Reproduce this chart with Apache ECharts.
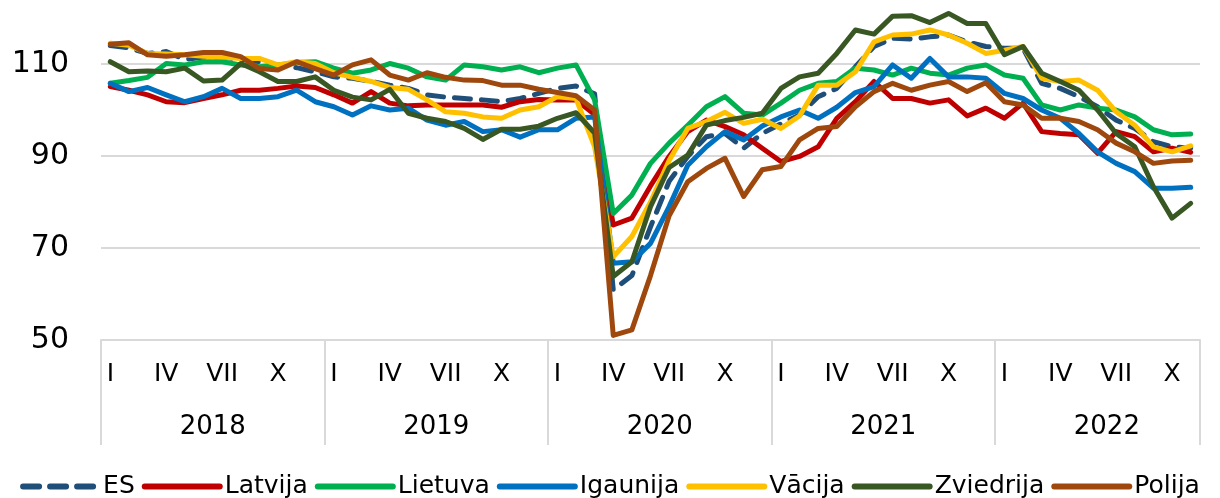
<!DOCTYPE html>
<html>
<head>
<meta charset="utf-8">
<script src="https://cdn.jsdelivr.net/npm/echarts@6/dist/echarts.min.js"></script>
<style>
  html, body { margin: 0; padding: 0; background: #fff; }
  #chart { width: 1220px; height: 498px; }
</style>
</head>
<body>
<div id="chart"></div>
<script>
const monthNames = ["I", "II", "III", "IV", "V", "VI", "VII", "VIII", "IX", "X", "XI", "XII"];
const years = ["2018", "2019", "2020", "2021", "2022"];
const monthsPerYear = [12, 12, 12, 12, 11];

// monthly values, I.2018 - XI.2022
const es = [
   114, 113.5, 112.3, 112.7, 111, 111.5, 111.5, 111, 110.5, 109.8, 109.2, 108.3,
   107.2, 106.9, 106.2, 105.4, 104.7, 103.3, 102.8, 102.5, 102.2, 101.8, 102.5, 103.6,
   104.7, 105.2, 103.5, 60.9, 64, 74.6, 84.5, 89.9, 94.2, 94.9, 91.7, 94.9,
   97, 98.9, 102.9, 104.7, 109.4, 113.8, 115.6, 115.4, 115.9, 116.3, 114.8, 113.8,
   113.4, 113.4, 105.8, 104.7, 102.9, 100.7, 97.8, 96, 93.1, 92, 91.7,
];
const latvija = [
   105.1, 104.3, 103.3, 101.8, 101.6, 102.5, 103.3, 104.3, 104.3, 104.7, 105.2, 104.9,
   103.3, 101.5, 104, 101.5, 100.9, 101.1, 101.1, 101.1, 101.1, 100.6, 101.8, 102.3,
   102.2, 102.2, 99, 75, 76.5, 83.5, 89.9, 95.3, 97.8, 96.4, 94.6, 91.7,
   88.8, 89.9, 92, 98.2, 101.8, 106.2, 102.5, 102.5, 101.5, 102.2, 98.7, 100.4,
   98.2, 101.5, 95.3, 94.9, 94.6, 90.6, 95.3, 94.2, 90.9, 91.7, 90.8,
];
const lietuva = [
   105.8, 106.4, 107.1, 110.1, 109.8, 110.5, 110.5, 109.8, 109.4, 109.8, 110.3, 110.5,
   109.1, 108, 108.7, 110.1, 109.1, 107.2, 106.5, 109.8, 109.4, 108.7, 109.4, 108.1,
   109.1, 109.8, 102.2, 77.5, 81.5, 88.4, 92.8, 96.7, 100.7, 102.9, 99.3, 98.9,
   101.5, 104.3, 105.8, 106.2, 109.1, 108.7, 107.6, 109.1, 108, 107.6, 109.1, 109.8,
   107.6, 106.9, 101.1, 100, 101.1, 100.4, 100, 98.5, 95.7, 94.6, 94.8,
];
const igaunija = [
   105.8, 104, 104.9, 103.3, 101.8, 102.9, 104.7, 102.5, 102.5, 102.9, 104.3, 101.8,
   100.7, 98.9, 100.9, 100, 100.4, 97.8, 96.7, 97.5, 95.3, 95.7, 94.1, 95.7,
   95.7, 98.2, 98.5, 66.7, 67, 71, 79, 88, 92, 95.3, 93.5, 96.5,
   98.5, 100, 98.2, 100.6, 103.8, 105.1, 109.8, 106.9, 111.2, 107.2, 107.2, 106.9,
   103.6, 102.5, 100, 98.2, 94.9, 90.9, 88.4, 86.6, 83, 83, 83.2,
];
const vacija = [
   114.5, 114.1, 112.3, 112.2, 112, 111.7, 111.5, 111.2, 111.2, 109.8, 110.5, 110.1,
   108.1, 107.1, 106.2, 104.9, 104.5, 102.2, 99.6, 99.3, 98.5, 98.2, 100, 100.7,
   102.9, 102.5, 92, 68.1, 72.5, 80, 89, 96, 97.5, 99.5, 97.1, 98,
   96, 98.7, 105.4, 105.4, 108.3, 114.8, 116.3, 116.5, 117.4, 116.3, 114.5, 112.3,
   113, 113.8, 106.9, 106.2, 106.5, 104.3, 99.6, 96.7, 92, 90.9, 92.2,
];
const zviedrija = [
   110.5, 108.3, 108.5, 108.3, 109.1, 106.3, 106.5, 110.1, 108.3, 106.2, 106.2, 107.2,
   104.3, 102.8, 102.2, 104.5, 99.3, 98.2, 97.5, 96, 93.6, 95.8, 95.8, 96.5,
   98.2, 99.4, 95, 63.8, 67, 79, 87.5, 90.2, 96.7, 97.7, 98.4, 99.3,
   104.7, 107.2, 108, 112.3, 117.4, 116.5, 120.4, 120.5, 119, 121, 118.8, 118.8,
   112, 113.8, 108, 106.2, 104.3, 100, 94.9, 92, 83.3, 76.5, 79.7,
];
const polija = [
   114.3, 114.6, 112, 111.7, 112, 112.5, 112.5, 111.6, 109, 108.7, 110.5, 109,
   107.6, 109.8, 110.9, 107.6, 106.5, 108.1, 107.1, 106.5, 106.4, 105.4, 105.4, 104.5,
   103.8, 103.1, 100, 51, 52.2, 64, 77, 84.4, 87.3, 89.5, 81.2, 87,
   87.7, 93.5, 96, 96.4, 100.7, 104, 105.8, 104.3, 105.4, 106.2, 104, 105.9,
   101.8, 101.1, 98.2, 98.2, 97.5, 95.7, 92.8, 90.9, 88.4, 88.9, 89.1,
];

const seriesList = [
   { name: "ES", data: es, color: "#1F4E79", dashed: true },
   { name: "Latvija", data: latvija, color: "#C00000" },
   { name: "Lietuva", data: lietuva, color: "#00B050" },
   { name: "Igaunija", data: igaunija, color: "#0070C0" },
   { name: "Vācija", data: vacija, color: "#FFC000" },
   { name: "Zviedrija", data: zviedrija, color: "#385723" },
   { name: "Polija", data: polija, color: "#9E480E" },
];

// category labels, one per month
const monthCats = [];
const yearCats = [];
years.forEach((y, k) => {
   for (let m = 0; m < monthsPerYear[k]; m++) {
      monthCats.push(monthNames[m]);
      yearCats.push(y);
   }
});

const font = "DejaVu Sans";
const gridGrey = "#d9d9d9";

const chart = echarts.init(document.getElementById("chart"));

chart.setOption({
   animation: false,
   textStyle: { fontFamily: font, color: "#000" },
   grid: { left: 101, right: 20, top: -28, bottom: 158, outerBoundsMode: "none", containLabel: false },
   legend: {
      top: 469,
      left: "center",
      itemWidth: 75,
      itemHeight: 14,
      itemGap: 7,
      itemStyle: { opacity: 0 },
      lineStyle: { width: 6, cap: "round" },
      textStyle: { fontFamily: font, fontSize: 25, color: "#000" },
      data: seriesList.map((s) => s.name),
   },
   xAxis: [
      {
         type: "category",
         position: "bottom",
         data: monthCats,
         boundaryGap: true,
         axisLine: { show: true, onZero: false, lineStyle: { color: gridGrey, width: 2 } },
         axisTick: { show: false },
         axisLabel: {
            interval: (idx) => idx % 3 === 0,
            fontFamily: font,
            fontSize: 25,
            color: "#000",
            margin: 22,
         },
      },
      {
         type: "category",
         position: "bottom",
         data: yearCats,
         boundaryGap: true,
         axisLine: { show: false, onZero: false },
         axisTick: {
            show: true,
            interval: (idx) => idx % 12 === 0,
            length: 105,
            lineStyle: { color: gridGrey, width: 2 },
         },
         axisLabel: {
            interval: (idx) => idx % 12 === 5,
            fontFamily: font,
            fontSize: 26,
            color: "#000",
            margin: 74,
            padding: [0, 0, 0, 18.6],
         },
      },
   ],
   yAxis: {
      type: "value",
      min: 50,
      max: 130,
      interval: 20,
      axisLine: { show: false },
      axisTick: { show: false },
      axisLabel: { fontFamily: font, fontSize: 30, color: "#000", margin: 32 },
      splitLine: { lineStyle: { color: gridGrey, width: 2 } },
   },
   series: seriesList.map((s) => ({
      name: s.name,
      type: "line",
      xAxisIndex: 0,
      data: s.data,
      symbol: "none",
      clip: false,
      color: s.color,
      lineStyle: {
         color: s.color,
         width: 5,
         type: s.dashed ? [16, 11] : "solid",
         cap: "round",
         join: "round",
      },
   })),
});
</script>
</body>
</html>
